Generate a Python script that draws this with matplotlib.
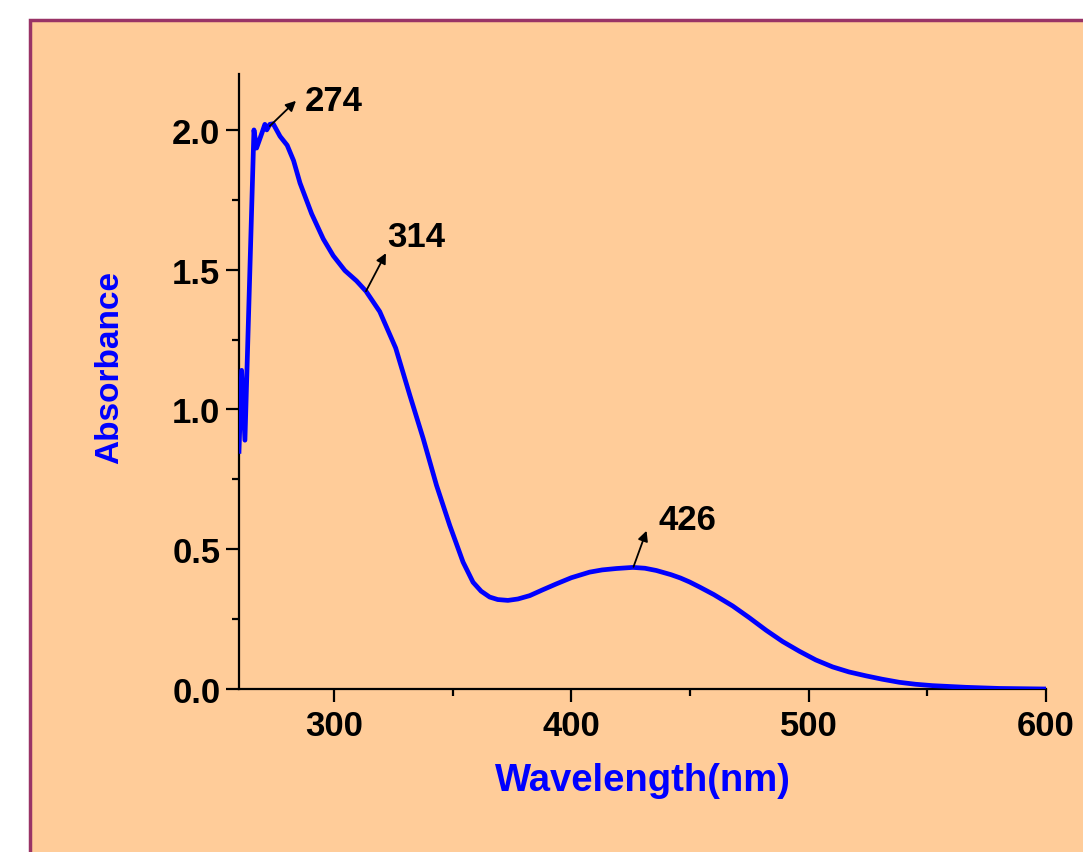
#!/usr/bin/env python3
"""UV-Vis absorption spectrum with labelled peaks (274, 314, 426 nm)."""

import matplotlib
matplotlib.use("Agg")
import matplotlib.pyplot as plt
from matplotlib.patches import Rectangle
from matplotlib.ticker import MultipleLocator


# ---------- Data ----------

wavelength = [
    260.0, 261.1, 262.5, 266.3, 267.4, 269.7, 270.9, 271.7, 273.0, 274.4,
    277.3, 280.3, 283.0, 285.7, 290.6, 295.5, 299.7, 304.6, 309.5, 313.5,
    319.3, 326.0, 332.0, 337.6, 343.2, 348.8, 354.4, 358.6, 362.0, 365.6,
    369.0, 373.3, 377.5, 382.5, 388.0, 393.7, 400.0, 407.7, 413.0, 419.0,
    426.0, 431.0, 435.8, 442.0, 446.0, 449.8, 454.0, 460.0, 468.0, 475.0,
    482.1, 489.0, 496.1, 503.0, 510.1, 517.0, 524.2, 531.0, 538.2, 545.0,
    552.2, 566.3, 580.3, 600.0,
]
absorbance = [
    0.85, 1.14, 0.89, 2.00, 1.935, 1.99, 2.02, 2.00, 2.02, 2.022,
    1.977, 1.945, 1.89, 1.81, 1.70, 1.61, 1.55, 1.497, 1.46, 1.423,
    1.35, 1.22, 1.05, 0.896, 0.729, 0.585, 0.454, 0.382, 0.35, 0.329,
    0.32, 0.317, 0.322, 0.334, 0.355, 0.376, 0.398, 0.418, 0.426, 0.431,
    0.435, 0.432, 0.424, 0.409, 0.397, 0.383, 0.365, 0.338, 0.297, 0.255,
    0.21, 0.17, 0.135, 0.104, 0.079, 0.061, 0.047, 0.035, 0.024, 0.017,
    0.012, 0.006, 0.002, 0.0,
]

# peak labels: text, point on curve, arrow tip, text position
peak_labels = ["274", "314", "426"]
peak_points = [(273.0, 2.014), (313.5, 1.423), (426.2, 0.437)]
arrow_tips = [(284.0, 2.104), (321.9, 1.559), (431.7, 0.566)]
label_pos = [(287.6, 2.104), (322.5, 1.62), (436.6, 0.605)]


# ---------- Figure ----------

plt.rcParams["font.family"] = ["Liberation Sans", "DejaVu Sans"]
plt.rcParams["font.weight"] = "bold"

fig = plt.figure(figsize=(10.83, 8.53), dpi=100)
fig.patch.set_facecolor("white")

# peach panel with plum border (cut off on the right and bottom)
panel = Rectangle((30 / 1083, -0.05), 1.2, 0.975 + 0.05,
                  transform=fig.transFigure, facecolor="#FFCC99",
                  edgecolor="#993366", linewidth=2.5, zorder=-10)
fig.add_artist(panel)

ax = fig.add_axes([239 / 1083, 163 / 853, 807 / 1083, 615 / 853])
ax.patch.set_visible(False)

ax.plot(wavelength, absorbance, color="#0000FF", linewidth=3.4,
        solid_joinstyle="round", zorder=3)

for txt, pt, tip, pos in zip(peak_labels, peak_points, arrow_tips, label_pos):
    ax.annotate("", xy=tip, xytext=pt,
                arrowprops=dict(arrowstyle="-|>", color="black", lw=1.3,
                                mutation_scale=15, shrinkA=0, shrinkB=0),
                zorder=4)
    ax.text(pos[0], pos[1], txt, fontsize=25, fontweight="bold",
            ha="left", va="center", color="black")

ax.set_xlim(260, 600)
ax.set_ylim(0, 2.2)
ax.xaxis.set_major_locator(MultipleLocator(100))
ax.xaxis.set_minor_locator(MultipleLocator(50))
ax.yaxis.set_major_locator(MultipleLocator(0.5))
ax.yaxis.set_minor_locator(MultipleLocator(0.25))
ax.yaxis.set_major_formatter(plt.FuncFormatter(lambda v, p: f"{v:.1f}"))

for side in ["top", "right"]:
    ax.spines[side].set_visible(False)
for side in ["left", "bottom"]:
    ax.spines[side].set_linewidth(1.6)
    ax.spines[side].set_color("black")

ax.tick_params(which="major", direction="out", length=9.5, width=1.6,
               labelsize=25, pad=4)
ax.tick_params(which="minor", direction="out", length=5, width=1.6)
ax.tick_params(axis="x", which="major", pad=5)

ax.set_xlabel("Wavelength(nm)", fontsize=27.5, fontweight="bold",
              color="#0000FF", va="center")
ax.xaxis.set_label_coords(0.5, -0.148)
ax.set_ylabel("Absorbance", fontsize=24, fontweight="bold",
              color="#0000FF", va="center")
ax.yaxis.set_label_coords(-0.160, 0.525)

fig.savefig("out.png", dpi=100, facecolor=fig.get_facecolor())
plt.close(fig)
